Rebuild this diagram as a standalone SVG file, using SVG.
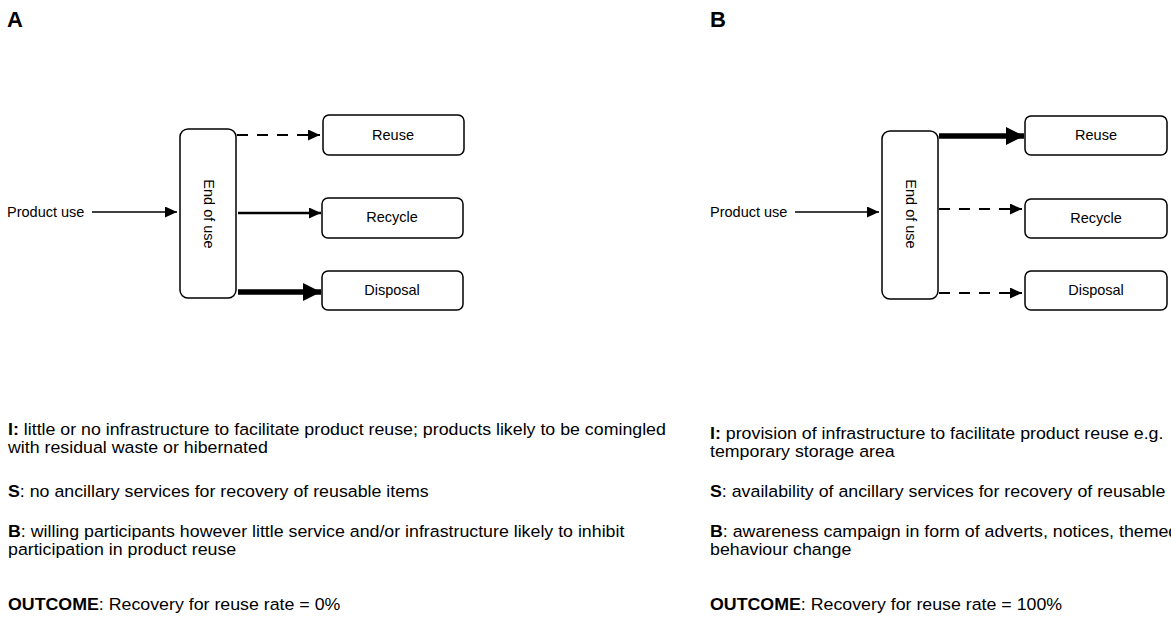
<svg xmlns="http://www.w3.org/2000/svg" width="1171" height="628" viewBox="0 0 1171 628">
  <style>
    .box { fill: #fff; stroke: #000; stroke-width: 1.5; }
    .lbl { font-family: "Liberation Sans", Arial, sans-serif; font-size: 14.5px; fill: #000; }
    .title { font-family: "Liberation Sans", Arial, sans-serif; font-size: 22px; font-weight: bold; fill: #000; }
    .body { font-family: "Liberation Sans", Arial, sans-serif; font-size: 16.5px; fill: #000; }
    .thin { stroke: #000; stroke-width: 1.6; fill: none; }
    .mid { stroke: #000; stroke-width: 2.6; fill: none; }
    .thick { stroke: #000; stroke-width: 5.5; fill: none; }
    .dash { stroke: #000; stroke-width: 1.8; fill: none; stroke-dasharray: 11 9; }
  </style>
  <defs>
    <marker id="ah" markerUnits="userSpaceOnUse" markerWidth="13" markerHeight="11" refX="12" refY="5.5" orient="auto">
      <path d="M0,0 L12,5.5 L0,11 z" fill="#000"/>
    </marker>
    <marker id="ahBig" markerUnits="userSpaceOnUse" markerWidth="19" markerHeight="18" refX="18" refY="9" orient="auto">
      <path d="M0,0 L18,9 L0,18 z" fill="#000"/>
    </marker>
  </defs>
  <rect width="1171" height="628" fill="#fff"/>

  <text class="title" x="7" y="27">A</text>
  <text class="title" x="710" y="27">B</text>

  <!-- Panel A -->
  <g id="A-product-use"><text class="lbl" x="7" y="217">Product use</text></g>
  <g id="A-end-of-use">
    <rect class="box" x="180" y="129" width="56" height="169" rx="8"/>
    <text class="lbl" text-anchor="middle" transform="translate(204,214) rotate(90)">End of use</text>
  </g>
  <g id="A-reuse"><rect class="box" x="323" y="115" width="141" height="40" rx="6"/><text class="lbl" x="393" y="140" text-anchor="middle">Reuse</text></g>
  <g id="A-recycle"><rect class="box" x="322" y="198" width="141" height="40" rx="6"/><text class="lbl" x="392" y="222" text-anchor="middle">Recycle</text></g>
  <g id="A-disposal"><rect class="box" x="322" y="271" width="141" height="39" rx="6"/><text class="lbl" x="392" y="295" text-anchor="middle">Disposal</text></g>

  <!-- Panel B -->
  <g id="B-product-use"><text class="lbl" x="710" y="217">Product use</text></g>
  <g id="B-end-of-use">
    <rect class="box" x="882" y="131" width="56" height="168" rx="8"/>
    <text class="lbl" text-anchor="middle" transform="translate(906,214) rotate(90)">End of use</text>
  </g>
  <g id="B-reuse"><rect class="box" x="1025" y="116" width="142" height="39" rx="6"/><text class="lbl" x="1096" y="140" text-anchor="middle">Reuse</text></g>
  <g id="B-recycle"><rect class="box" x="1025" y="199" width="142" height="39" rx="6"/><text class="lbl" x="1096" y="223" text-anchor="middle">Recycle</text></g>
  <g id="B-disposal"><rect class="box" x="1025" y="271" width="142" height="39" rx="6"/><text class="lbl" x="1096" y="295" text-anchor="middle">Disposal</text></g>

  <g id="connectors">
    <line class="thin" x1="92" y1="212" x2="177" y2="212" marker-end="url(#ah)"/>
    <line class="dash" x1="237" y1="135" x2="320" y2="135" marker-end="url(#ah)"/>
    <line class="mid" x1="238" y1="213" x2="321" y2="213" marker-end="url(#ah)"/>
    <line class="thick" x1="238" y1="292" x2="321" y2="292" marker-end="url(#ahBig)"/>

    <line class="thin" x1="795" y1="212" x2="879" y2="212" marker-end="url(#ah)"/>
    <line class="thick" x1="939" y1="136" x2="1024" y2="136" marker-end="url(#ahBig)"/>
    <line class="dash" x1="939" y1="209" x2="1022" y2="209" marker-end="url(#ah)"/>
    <line class="dash" x1="939" y1="293" x2="1022" y2="293" marker-end="url(#ah)"/>
  </g>

  <g id="A-notes" transform="translate(8,0) scale(1.078,1)">
    <text class="body" x="0" y="435"><tspan font-weight="bold">I:</tspan> little or no infrastructure to facilitate product reuse; products likely to be comingled</text>
    <text class="body" x="0" y="453">with residual waste or hibernated</text>
    <text class="body" x="0" y="497"><tspan font-weight="bold">S</tspan>: no ancillary services for recovery of reusable items</text>
    <text class="body" x="0" y="537"><tspan font-weight="bold">B</tspan>: willing participants however little service and/or infrastructure likely to inhibit</text>
    <text class="body" x="0" y="555">participation in product reuse</text>
    <text class="body" x="0" y="610"><tspan font-weight="bold">OUTCOME</tspan>: Recovery for reuse rate = 0%</text>
  </g>
  <g id="B-notes" transform="translate(710,0) scale(1.078,1)">
    <text class="body" x="0" y="439"><tspan font-weight="bold">I:</tspan> provision of infrastructure to facilitate product reuse e.g.</text>
    <text class="body" x="0" y="457">temporary storage area</text>
    <text class="body" x="0" y="497"><tspan font-weight="bold">S</tspan>: availability of ancillary services for recovery of reusable</text>
    <text class="body" x="0" y="537"><tspan font-weight="bold">B</tspan>: awareness campaign in form of adverts, notices, themed</text>
    <text class="body" x="0" y="555">behaviour change</text>
    <text class="body" x="0" y="610"><tspan font-weight="bold">OUTCOME</tspan>: Recovery for reuse rate = 100%</text>
  </g>
</svg>
